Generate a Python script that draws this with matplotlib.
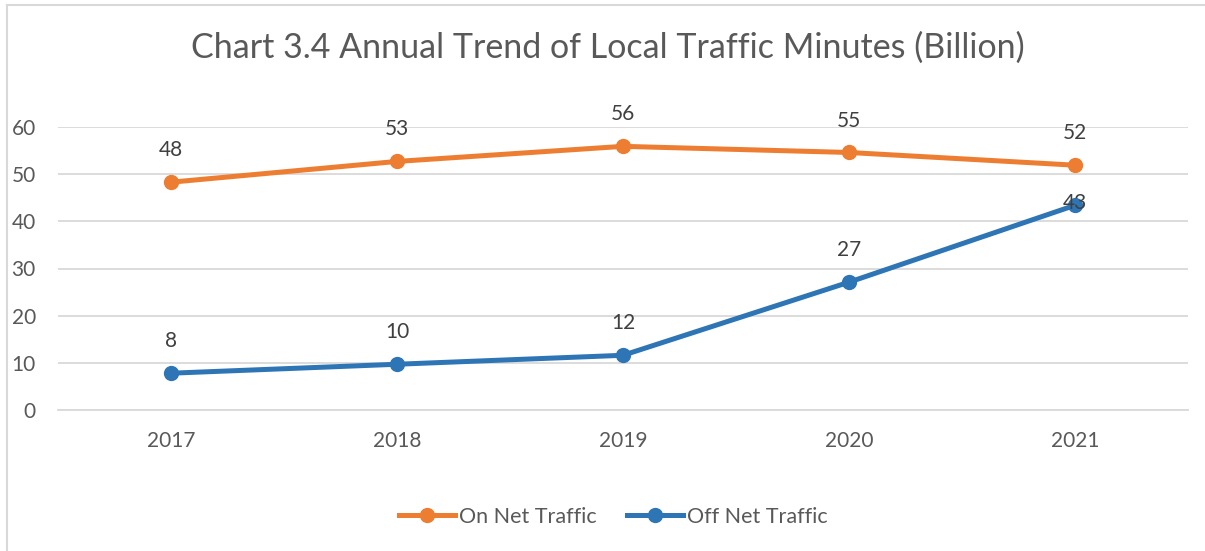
import matplotlib.pyplot as plt
from matplotlib.lines import Line2D

years = ["2017", "2018", "2019", "2020", "2021"]
on_net = [48.3, 52.7, 55.9, 54.6, 51.9]
off_net = [7.8, 9.7, 11.6, 27.1, 43.4]
on_labels = ["48", "53", "56", "55", "52"]
off_labels = ["8", "10", "12", "27", "43"]

orange = "#ED7D31"
blue = "#2E75B6"
text_col = "#595959"
grid_col = "#D9D9D9"

plt.rcParams["font.family"] = ["Lato", "DejaVu Sans"]

fig = plt.figure(figsize=(12.05, 5.51), dpi=100)
ax = fig.add_axes([58 / 1205, 1 - 410 / 551, 1130 / 1205, 283 / 551])

x = list(range(len(years)))
ax.plot(x, on_net, color=orange, lw=3.6, marker="o", ms=10, solid_capstyle="round", zorder=3)
ax.plot(x, off_net, color=blue, lw=3.6, marker="o", ms=10, solid_capstyle="round", zorder=3)

for xi, v, lab in zip(x, on_net, on_labels):
    ax.annotate(lab, (xi, v), xytext=(0, 23), textcoords="offset points",
                ha="center", va="center", fontsize=15, color="#404040", zorder=4)
for xi, v, lab in zip(x, off_net, off_labels):
    # the last label collides with the orange one in the original, so it sits on the point
    dy = 1.5 if xi == x[-1] else 23
    ax.annotate(lab, (xi, v), xytext=(0, dy), textcoords="offset points",
                ha="center", va="center", fontsize=15, color="#404040", zorder=4)

ax.set_xlim(-0.5, 4.5)
ax.set_ylim(0, 60)
ax.set_xticks(x)
ax.set_xticklabels(years)
ax.set_yticks(range(0, 61, 10))
ax.yaxis.grid(True, color=grid_col, lw=1.3)
ax.set_axisbelow(True)
for s in ["left", "right", "top"]:
    ax.spines[s].set_visible(False)
ax.spines["bottom"].set_color(grid_col)
ax.spines["bottom"].set_linewidth(1.3)
ax.tick_params(axis="both", length=0, labelsize=15, labelcolor=text_col)
ax.tick_params(axis="y", pad=16)
ax.tick_params(axis="x", pad=15)

fig.text(608 / 1205, 1 - 48 / 551, "Chart 3.4 Annual Trend of Local Traffic Minutes (Billion)",
         ha="center", va="center", fontsize=24.5, color=text_col)

handles = [Line2D([], [], color=orange, lw=3.6, marker="o", ms=10),
           Line2D([], [], color=blue, lw=3.6, marker="o", ms=10)]
fig.legend(handles, ["On Net Traffic", "Off Net Traffic"], loc="center",
           bbox_to_anchor=(613 / 1205, 1 - 517 / 551), ncol=2, frameon=False,
           fontsize=15.5, labelcolor=text_col, handlelength=2.6, handletextpad=0.2,
           columnspacing=1.4)

# chart frame (top and left edges visible)
fig.add_artist(Line2D([7 / 1205, 7 / 1205], [0, 1 - 5 / 551], transform=fig.transFigure,
                      color=grid_col, lw=1.5))
fig.add_artist(Line2D([7 / 1205, 1], [1 - 5 / 551, 1 - 5 / 551], transform=fig.transFigure,
                      color=grid_col, lw=1.5))

fig.savefig("out.png", dpi=100)
